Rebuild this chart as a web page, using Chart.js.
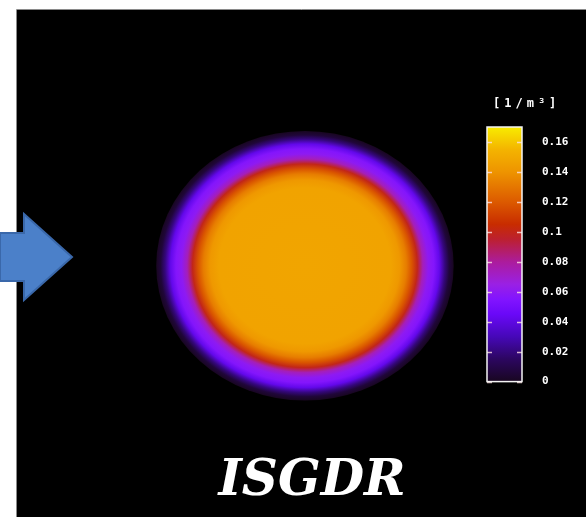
<!DOCTYPE html>
<html>
<head>
<meta charset="utf-8">
<script src="https://cdn.jsdelivr.net/npm/chart.js@4/dist/chart.umd.min.js"></script>
<style>
  html, body { margin: 0; padding: 0; background: #fff; }
  #c { display: block; }
</style>
</head>
<body>
<canvas id="c" width="586" height="517"></canvas>
<script>
// Colour bar: tick values, their labels, range and unit
const colorbarTicks = [0, 0.02, 0.04, 0.06, 0.08, 0.1, 0.12, 0.14, 0.16];
const colorbarTickLabels = ['0', '0.02', '0.04', '0.06', '0.08', '0.1', '0.12', '0.14', '0.16'];
const colorbarRange = [0, 0.17];
const colorbarUnit = '[1/m³]';

// Colour map: value -> colour
const cmapValues = [0.000, 0.015, 0.030, 0.045, 0.055, 0.065, 0.080, 0.095, 0.105, 0.120, 0.140, 0.155, 0.170];
const cmapColors = ['#180620', '#2c0660', '#4608b8', '#6a08f8', '#8214ff', '#9a20e4', '#ac1c9c', '#bc2030',
                    '#c82c00', '#dc5a00', '#ee9400', '#f4b400', '#f8ec00'];

// Radial density profile of the disc (radius in plot units, density in 1/m³)
const profileRadius = [0, 0.78, 0.86, 0.92, 0.97, 1.02, 1.07, 1.12, 1.17, 1.22, 1.27, 1.31, 1.35];
const profileValue  = [0.148, 0.147, 0.142, 0.132, 0.118, 0.100, 0.074, 0.060, 0.056, 0.042, 0.020, 0.006, 0];
const discCenter = [0, 0];

// Plot extents
const xRange = [-1.86, 1.97];
const yRange = [-1.16, 1.39];

const chartTitle = 'ISGDR';

function hexToRgb(h) {
  const n = parseInt(h.slice(1), 16);
  return [(n >> 16) & 255, (n >> 8) & 255, n & 255];
}
function colormap(v) {
  if (v <= cmapValues[0]) return cmapColors[0];
  for (let i = 1; i < cmapValues.length; i++) {
    if (v <= cmapValues[i]) {
      const t = (v - cmapValues[i - 1]) / (cmapValues[i] - cmapValues[i - 1]);
      const a = hexToRgb(cmapColors[i - 1]), b = hexToRgb(cmapColors[i]);
      const c = a.map((x, k) => Math.round(x + (b[k] - x) * t));
      return `rgb(${c[0]},${c[1]},${c[2]})`;
    }
  }
  return cmapColors[cmapColors.length - 1];
}

// Background panel and the pointer arrow
const backdrop = {
  id: 'backdrop',
  beforeDraw(chart) {
    const ctx = chart.ctx;
    ctx.save();
    ctx.fillStyle = '#ffffff';
    ctx.fillRect(0, 0, chart.width, chart.height);
    ctx.fillStyle = '#000000';
    ctx.fillRect(17, 10, chart.width - 17, chart.height - 10);
    ctx.strokeStyle = '#8a8a8a';
    ctx.lineWidth = 1;
    ctx.beginPath();
    ctx.moveTo(16.5, chart.height); ctx.lineTo(16.5, 9.5); ctx.lineTo(chart.width, 9.5);
    ctx.stroke();
    // arrow
    ctx.beginPath();
    ctx.moveTo(0, 233); ctx.lineTo(24, 233); ctx.lineTo(24, 214);
    ctx.lineTo(72, 257); ctx.lineTo(24, 300); ctx.lineTo(24, 281); ctx.lineTo(0, 281);
    ctx.closePath();
    ctx.fillStyle = '#4b80c9';
    ctx.fill();
    ctx.strokeStyle = '#3a68aa';
    ctx.lineWidth = 2;
    ctx.stroke();
    ctx.restore();
  }
};

// Density disc drawn as a radial gradient through the x / y scales
const densityDisc = {
  id: 'densityDisc',
  beforeDatasetsDraw(chart) {
    const { ctx, scales } = chart;
    const x = scales.x, y = scales.y;
    const cx = x.getPixelForValue(discCenter[0]);
    const cy = y.getPixelForValue(discCenter[1]);
    const sx = x.getPixelForValue(discCenter[0] + 1) - cx;
    const sy = cy - y.getPixelForValue(discCenter[1] + 1);
    const rMax = profileRadius[profileRadius.length - 1];
    ctx.save();
    ctx.translate(cx, cy);
    ctx.scale(sx, sy);
    const g = ctx.createRadialGradient(0, 0, 0, 0, 0, rMax);
    profileRadius.forEach((r, i) => g.addColorStop(r / rMax, colormap(profileValue[i])));
    ctx.fillStyle = g;
    ctx.beginPath();
    ctx.arc(0, 0, rMax, 0, Math.PI * 2);
    ctx.fill();
    ctx.restore();
  }
};

// Colour bar drawn along the cbar scale
const colorBar = {
  id: 'colorBar',
  afterDatasetsDraw(chart) {
    const { ctx, chartArea } = chart;
    const cb = chart.scales.cbar;
    const x1 = chartArea.right, x0 = x1 - 35;
    const yBot = cb.getPixelForValue(colorbarRange[0]);
    const yTop = cb.getPixelForValue(colorbarRange[1]);
    ctx.save();
    const g = ctx.createLinearGradient(0, yBot, 0, yTop);
    const span = colorbarRange[1] - colorbarRange[0];
    cmapValues.forEach((v, i) => g.addColorStop((v - colorbarRange[0]) / span, cmapColors[i]));
    ctx.fillStyle = g;
    ctx.fillRect(x0, yTop, x1 - x0, yBot - yTop);
    ctx.strokeStyle = 'rgba(255,225,225,0.8)';
    ctx.lineWidth = 1.5;
    colorbarTicks.forEach(v => {
      const py = Math.round(cb.getPixelForValue(v)) + 0.5;
      ctx.beginPath();
      ctx.moveTo(x0, py); ctx.lineTo(x0 + 5, py);
      ctx.moveTo(x1 - 5, py); ctx.lineTo(x1, py);
      ctx.stroke();
    });
    ctx.strokeStyle = '#f4f4f4';
    ctx.lineWidth = 1.5;
    ctx.strokeRect(x0, yTop, x1 - x0, yBot - yTop);
    ctx.fillStyle = '#ffffff';
    ctx.font = 'bold 12px "DejaVu Sans Mono"';
    ctx.textBaseline = 'middle';
    ctx.textAlign = 'left';
    if ('letterSpacing' in ctx) ctx.letterSpacing = '4px';
    ctx.fillText(colorbarUnit, x0 + 6, 104);
    ctx.restore();
  }
};

new Chart(document.getElementById('c'), {
  type: 'scatter',
  data: { datasets: [{ data: [], xAxisID: 'x', yAxisID: 'y' }] },
  options: {
    responsive: false,
    animation: false,
    layout: { padding: { left: 38, top: 127, right: 0, bottom: 0 } },
    plugins: {
      legend: { display: false },
      tooltip: { enabled: false },
      title: {
        display: true,
        text: chartTitle,
        position: 'bottom',
        color: '#ffffff',
        font: { family: '"DejaVu Serif"', size: 50, style: 'italic', weight: 'bold', lineHeight: 1.2 },
        padding: { top: 70, bottom: 5.4 }
      }
    },
    scales: {
      x: { type: 'linear', min: xRange[0], max: xRange[1], display: false },
      y: {
        type: 'linear', min: yRange[0], max: yRange[1], position: 'left',
        ticks: { display: false }, grid: { display: false }, border: { display: false },
        afterFit(s) { s.width = 62; }
      },
      cbar: {
        type: 'linear', position: 'right', min: colorbarRange[0], max: colorbarRange[1],
        afterBuildTicks(s) { s.ticks = colorbarTicks.map(v => ({ value: v })); },
        ticks: {
          color: '#ffffff',
          padding: 20,
          font: { family: '"DejaVu Sans Mono"', weight: 'bold', size: 11 },
          callback: (v) => colorbarTickLabels[colorbarTicks.indexOf(v)]
        },
        grid: { display: false, drawTicks: false },
        border: { display: false },
        afterFit(s) { s.width = 64; }
      }
    }
  },
  plugins: [backdrop, densityDisc, colorBar]
});
</script>
</body>
</html>
